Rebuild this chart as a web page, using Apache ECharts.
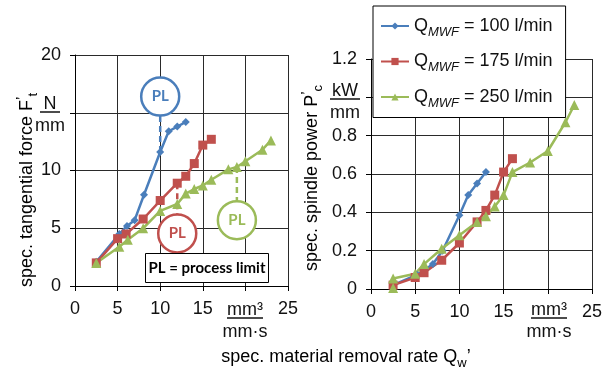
<!DOCTYPE html>
<html>
<head>
<meta charset="utf-8">
<script src="https://cdn.jsdelivr.net/npm/echarts@6/dist/echarts.min.js"></script>
<style>
  html, body { margin: 0; padding: 0; background: #fff; }
  #chart { width: 605px; height: 370px; }
</style>
</head>
<body>
<div id="chart"></div>
<script>
// Q'w in mm³/(mm·s), F't in N/mm, P'c in kW/mm
const rateBlue  = [2.5, 5.2, 6.1, 7, 8.1, 10, 11, 12, 13];
const forceBlue = [2.1, 4.5, 5.2, 5.7, 7.9, 11.6, 13.4, 13.8, 14.2];
const powerBlue = [0.02, 0.075, 0.1, 0.13, 0.2, 0.385, 0.49, 0.55, 0.61];

const rateRed  = [2.5, 5, 6, 8, 10, 12, 13, 14, 15, 16];
const forceRed = [2.0, 4.1, 4.5, 5.8, 7.4, 8.9, 9.5, 10.6, 12.2, 12.7];
const powerRed = [0.02, 0.06, 0.085, 0.15, 0.24, 0.35, 0.41, 0.49, 0.61, 0.68];

const rateGreenF  = [2.5, 5.2, 6.2, 8, 10, 12, 13, 14, 15, 16, 18, 19, 20, 22, 23];
const forceGreen  = [2.0, 3.4, 4.0, 5.0, 6.5, 7.1, 8.0, 8.4, 8.7, 9.2, 10.1, 10.3, 10.8, 11.8, 12.6];
const rateGreenP  = [2.5, 2.5, 5, 6, 8, 10, 12, 13, 14, 15, 16, 18, 20, 22, 23];
const powerGreen  = [0.005, 0.055, 0.08, 0.13, 0.21, 0.28, 0.35, 0.38, 0.43, 0.49, 0.61, 0.66, 0.72, 0.87, 0.96];

// process limits: [rate, force at limit, circle centre]
const limitBlue  = [10, 11.6, 16.4];
const limitRed   = [12, 8.9, 4.55];
const limitGreen = [19, 10.3, 5.7];

const flowRates = ['100', '175', '250'];
const seriesNames = flowRates.map(q => 'Q_MWF = ' + q + ' l/min');

const forceTicks = ['0', '5', '10', '', '20'];
const powerTicks = ['0', '0.2', '0.4', '0.6', '0.8', '', '1.2'];
const rateTicks  = ['0', '5', '10', '15', '', '25'];

const BLUE = '#4a7ebb', RED = '#c0504d', GREEN = '#9bbb59';
const FONT = '"Liberation Sans", Arial, sans-serif';
const LABEL_FONT = 'Lato, "Liberation Sans", sans-serif';

const zip = (xs, ys) => xs.map((x, i) => [x, ys[i]]);

const chart = echarts.init(document.getElementById('chart'));

function valueAxis(extra) {
  return Object.assign({
    type: 'value',
    axisLine: { show: true, lineStyle: { color: '#000', width: 1 } },
    axisTick: { show: true, length: 5, lineStyle: { color: '#000' } },
    splitLine: { show: true, lineStyle: { color: '#2a2a2a', width: 1 } },
  }, extra);
}

function tickLabels(list) {
  return { color: '#111', fontSize: 18, fontFamily: FONT, margin: 14, formatter: (v, i) => list[i] };
}

function curve(name, data, color, symbol, size, xi) {
  return {
    name, type: 'line', data, xAxisIndex: xi, yAxisIndex: xi,
    symbol, symbolSize: size, color,
    lineStyle: { width: 2.5, color }, itemStyle: { color },
    z: 3,
  };
}

function limitDash(lim, color) {
  return {
    type: 'line', data: [[lim[0], lim[1]], [lim[0], lim[2]]],
    xAxisIndex: 0, yAxisIndex: 0, symbol: 'none', silent: true,
    lineStyle: { width: 2.5, type: [6, 4], color }, z: 2,
  };
}

function limitCircle(lim, color) {
  return {
    type: 'scatter', data: [[lim[0], lim[2]]], xAxisIndex: 0, yAxisIndex: 0,
    symbol: 'circle', symbolSize: 38, silent: true,
    itemStyle: { color: '#fff', borderColor: color, borderWidth: 2.5, opacity: 1 },
    label: { show: true, position: 'inside', formatter: 'PL', color,
      fontSize: 15, fontWeight: 'bold', fontFamily: LABEL_FONT },
    z: 4,
  };
}

const subRich = {
  m: { fontSize: 18, fontFamily: FONT, color: '#111', lineHeight: 26 },
  sub: { fontSize: 13, fontFamily: FONT, color: '#111', lineHeight: 12, verticalAlign: 'bottom' },
  sup: { fontSize: 15, fontFamily: FONT, color: '#111', lineHeight: 16, verticalAlign: 'top' },
};

function unitFraction(x, y, top, bottom, half) {
  return [
    { type: 'text', x, y: y - 8, style: { text: top, font: '18px ' + FONT, fill: '#111', align: 'center', verticalAlign: 'middle' } },
    { type: 'line', shape: { x1: x - half, y1: y, x2: x + half, y2: y }, style: { stroke: '#111', lineWidth: 1.5 } },
    { type: 'text', x, y: y + 14, style: { text: bottom, font: '18px ' + FONT, fill: '#111', align: 'center', verticalAlign: 'middle' } },
  ];
}

chart.setOption({
  animation: false,
  backgroundColor: '#fff',
  grid: [
    { left: 75, top: 55, width: 213, height: 231 },
    { left: 371, top: 59, width: 221, height: 230 },
  ],
  xAxis: [
    valueAxis({ gridIndex: 0, min: 0, max: 25, interval: 5, axisLabel: tickLabels(rateTicks) }),
    valueAxis({ gridIndex: 1, min: 0, max: 25, interval: 5, axisLabel: tickLabels(rateTicks) }),
  ],
  yAxis: [
    valueAxis({ gridIndex: 0, min: 0, max: 20, interval: 5, axisLabel: tickLabels(forceTicks) }),
    valueAxis({ gridIndex: 1, min: 0, max: 1.2, interval: 0.2, axisLabel: tickLabels(powerTicks) }),
  ],
  legend: {
    data: seriesNames,
    orient: 'vertical',
    left: 373, top: 6,
    padding: [11, 13, 8, 7],
    itemGap: 14,
    itemWidth: 28, itemHeight: 9,
    backgroundColor: '#fff',
    borderColor: '#000', borderWidth: 1, borderRadius: 0,
    formatter: name => '{q|Q}{s|MWF}{t|' + name.slice(5) + '}',
    textStyle: {
      rich: {
        q: { fontSize: 18, fontFamily: FONT, color: '#111', lineHeight: 25 },
        s: { fontSize: 13, fontFamily: FONT, fontStyle: 'italic', color: '#111', lineHeight: 12, verticalAlign: 'bottom' },
        t: { fontSize: 18, fontFamily: FONT, color: '#111', lineHeight: 25 },
      },
    },
    z: 10,
  },
  series: [
    limitDash(limitBlue, BLUE),
    limitDash(limitRed, RED),
    limitDash(limitGreen, GREEN),
    curve(seriesNames[0], zip(rateBlue, forceBlue), BLUE, 'diamond', 8, 0),
    curve(seriesNames[1], zip(rateRed, forceRed), RED, 'rect', 9, 0),
    curve(seriesNames[2], zip(rateGreenF, forceGreen), GREEN, 'triangle', 10, 0),
    curve(seriesNames[0], zip(rateBlue, powerBlue), BLUE, 'diamond', 8, 1),
    curve(seriesNames[1], zip(rateRed, powerRed), RED, 'rect', 9, 1),
    curve(seriesNames[2], zip(rateGreenP, powerGreen), GREEN, 'triangle', 10, 1),
    limitCircle(limitBlue, BLUE),
    limitCircle(limitRed, RED),
    limitCircle(limitGreen, GREEN),
  ],
  graphic: [
    // y-axis titles
    { type: 'text', x: 27, y: 190, rotation: Math.PI / 2,
      style: { text: '{m|spec. tangential force F}{sup|\u2019}{sub|t}', rich: subRich, align: 'center', verticalAlign: 'middle' } },
    { type: 'text', x: 312, y: 178, rotation: Math.PI / 2,
      style: { text: '{m|spec. spindle power P}{sup|\u2019}{sub|c}', rich: subRich, align: 'center', verticalAlign: 'middle' } },
    // shared x-axis title
    { type: 'text', x: 346, y: 357,
      style: { text: '{m|spec. material removal rate Q}{sub|w}{m|\u2019}', rich: subRich, align: 'center', verticalAlign: 'middle' } },
    // units in place of tick labels
    ...unitFraction(50, 112, 'N', 'mm', 10),
    ...unitFraction(345, 99, 'kW', 'mm', 15),
    ...unitFraction(245, 318, 'mm³', 'mm·s', 18),
    ...unitFraction(549, 318, 'mm³', 'mm·s', 18),
    // process limit note
    { type: 'rect', shape: { x: 145.5, y: 253.5, width: 123, height: 29 },
      style: { fill: '#fff', stroke: '#000', lineWidth: 1 }, z: 20 },
    { type: 'text', x: 207, y: 268, z: 21,
      style: { text: 'PL = process limit', font: 'bold 15px ' + LABEL_FONT, fill: '#000', align: 'center', verticalAlign: 'middle' } },
  ],
});
</script>
</body>
</html>
